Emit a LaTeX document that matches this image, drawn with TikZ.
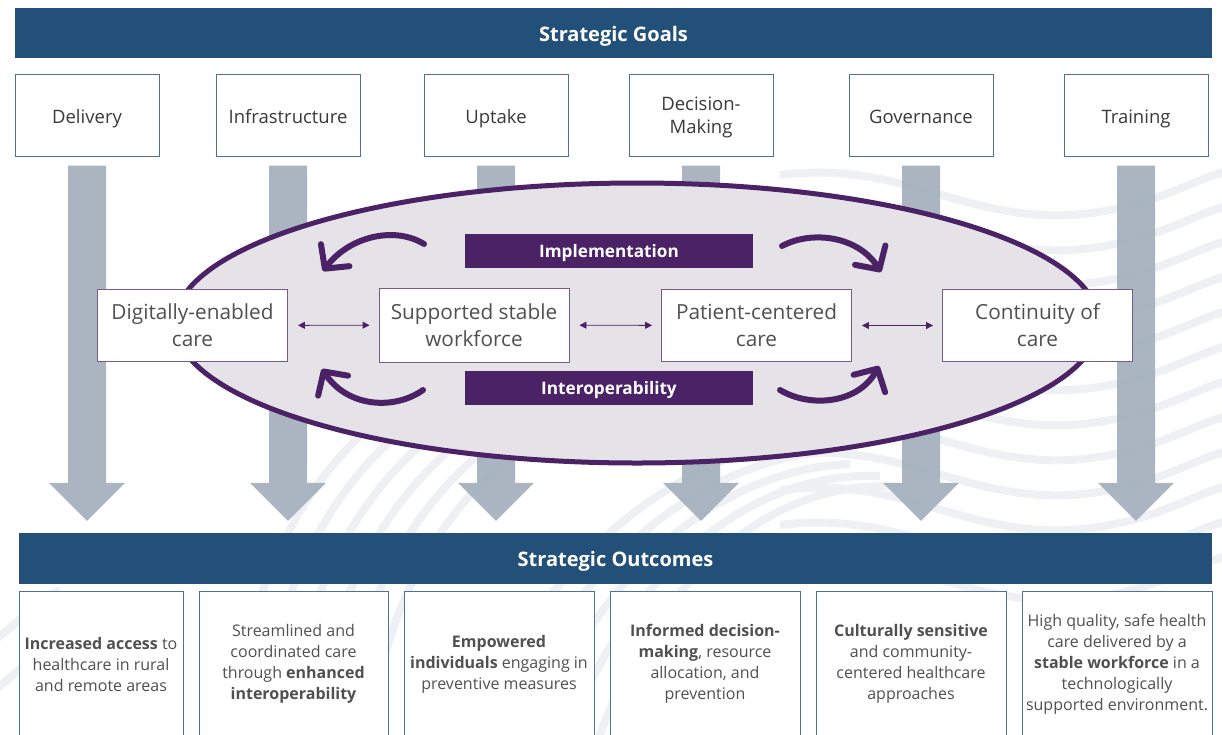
\documentclass[tikz,border=0pt]{standalone}
\usepackage{fontspec}
\setmainfont{Open Sans}
\usetikzlibrary{arrows.meta,positioning,calc}

\definecolor{navy}{HTML}{235078}
\definecolor{steel}{HTML}{4F7196}
\definecolor{shaft}{HTML}{A3AFBC}
\definecolor{plum}{HTML}{4B2266}
\definecolor{lilac}{HTML}{E6E3E8}
\definecolor{inkgray}{HTML}{3A3A3A}
\definecolor{softgray}{HTML}{505050}
\definecolor{wave}{HTML}{EEF0F4}

\tikzset{
  banner/.style={fill=navy, inner sep=0pt, minimum height=50pt},
  bannertext/.style={text=white, inner sep=0pt, yshift=-3pt,
    font=\fontsize{20}{24}\selectfont\bfseries},
  goalbox/.style={draw=steel, line width=1pt, fill=white,
    minimum width=144pt, minimum height=82pt, inner sep=0pt},
  goaltext/.style={align=center, inner sep=0pt, yshift=-4pt, text=inkgray,
    font=\fontsize{18.5}{23}\selectfont, execute at begin node=\strut},
  outbox/.style={draw=steel, line width=1pt, fill=white, align=center,
    minimum height=146pt, inner sep=0pt, text=softgray,
    font=\fontsize{16}{21}\selectfont},
  carebox/.style={draw=plum!75, line width=0.9pt, fill=white, align=center,
    minimum width=190pt, minimum height=72pt, inner sep=0pt, text=softgray,
    font=\fontsize{20.8}{27}\selectfont},
  tagbar/.style={fill=plum, minimum width=288pt, minimum height=34pt, inner sep=0pt},
  tagtext/.style={text=white, inner sep=0pt, yshift=-2pt,
    font=\fontsize{17.2}{20}\selectfont\bfseries},
  link/.style={plum, line width=0.9pt, shorten <=10pt, shorten >=9pt,
    {Triangle[length=7pt,width=7pt]}-{Triangle[length=7pt,width=7pt]}},
  cyclearrow/.style={plum, line width=6pt, line cap=round,
    -{Straight Barb[round,length=17pt,width=36pt]}},
  bgwave/.style={wave, line width=8pt},
}

\begin{document}
\begin{tikzpicture}[x=1pt, y=-1pt]
  \useasboundingbox (0,0) rectangle (1222,734);

  % faint background waves
  \foreach \y in {175,210,...,560} {
    \draw[bgwave] (780,\y) .. controls (900,\y-15) and (960,\y+45) .. (1070,\y+40)
      .. controls (1150,\y+35) and (1190,\y+5) .. (1230,\y-5);
  }
  \foreach \k in {0,...,5} {
    \draw[bgwave] (225+28*\k,740) .. controls (250+28*\k,600) and (290+30*\k,470) .. (420+40*\k,390);
  }
  \foreach \k in {0,...,4} {
    \draw[bgwave] (470+32*\k,740) .. controls (520+32*\k,600) and (640+30*\k,470) .. (790+30*\k,440+12*\k);
  }
  \draw[bgwave] (-5,640) .. controls (20,620) and (40,600) .. (60,590);
  \draw[bgwave] (-5,690) .. controls (20,670) and (40,650) .. (60,640);

  % banners
  \node[banner, minimum width=1197pt, label={[bannertext]center:Strategic Goals}]
    (goalhead) at (613.5,33) {};
  \node[banner, minimum width=1193pt, minimum height=51pt, label={[bannertext]center:Strategic Outcomes}]
    (outhead) at (615.5,558.5) {};

  % goal boxes
  \foreach \cx/\txt [count=\i] in {87/Delivery, 288/Infrastructure, 496/Uptake,
      701/Decision-\\Making, 921/Governance, 1136/Training} {
    \node[goalbox, label={[goaltext]center:\txt}] (g\i) at (\cx,115) {};
  }

  % wide arrows, goal -> outcomes
  \foreach \i in {1,...,6} {
    \fill[shaft, fill opacity=0.92] let \p1=(g\i.south), \p2=(outhead.north) in
      (\x1-19pt,\y1-9pt) -- (\x1+19pt,\y1-9pt) -- (\x1+19pt,\y2+50pt) -- (\x1+38pt,\y2+50pt)
      -- (\x1,\y2+12pt) -- (\x1-38pt,\y2+50pt) -- (\x1-19pt,\y2+50pt) -- cycle;
  }

  % outcome boxes
  \foreach \cx/\w/\txt [count=\i] in {
      101/164/{\textbf{Increased access} to\\healthcare in rural\\and remote areas},
      293.5/189/{Streamlined and\\coordinated care\\through \textbf{enhanced}\\\textbf{interoperability}},
      499/190/{\textbf{Empowered}\\\textbf{individuals} engaging in\\preventive measures},
      705/190/{\textbf{Informed decision-}\\\textbf{making}, resource\\allocation, and\\prevention},
      911/190/{\textbf{Culturally sensitive}\\and community-\\centered healthcare\\approaches},
      1117/190/{High quality, safe health\\care delivered by a\\\textbf{stable workforce} in a\\technologically\\supported environment.}} {
    \node[outbox, minimum width=\w pt] (o\i) at (\cx,664) {\txt};
  }

  % central loop
  \draw[plum, line width=5pt, fill=lilac] (637,323) ellipse [x radius=462pt, y radius=140pt];

  \node[tagbar, label={[tagtext]center:Implementation}] (impl) at (609,251) {};
  \node[tagbar, label={[tagtext]center:Interoperability}] (interop) at (609,388) {};

  \node[carebox] (c1) at (192.5,325.5) {Digitally-enabled\\care};
  \node[carebox, minimum height=74pt] (c2) at (474,325) {Supported stable\\workforce};
  \node[carebox] (c3) at (756.5,325.5) {Patient-centered\\care};
  \node[carebox] (c4) at (1037.5,325.5) {Continuity of\\care};

  \draw[link] (c1) -- (c2);
  \draw[link] (c2) -- (c3);
  \draw[link] (c3) -- (c4);

  % cycle arrows
  \draw[cyclearrow] (424,244) .. controls (395,226) and (350,236) .. (323,271);
  \draw[cyclearrow] (782,246) .. controls (812,230) and (858,236) .. (881,272);
  \draw[cyclearrow] (423,390) .. controls (395,410) and (348,408) .. (322,369);
  \draw[cyclearrow] (780,390) .. controls (810,408) and (858,404) .. (879,366);
\end{tikzpicture}
\end{document}
